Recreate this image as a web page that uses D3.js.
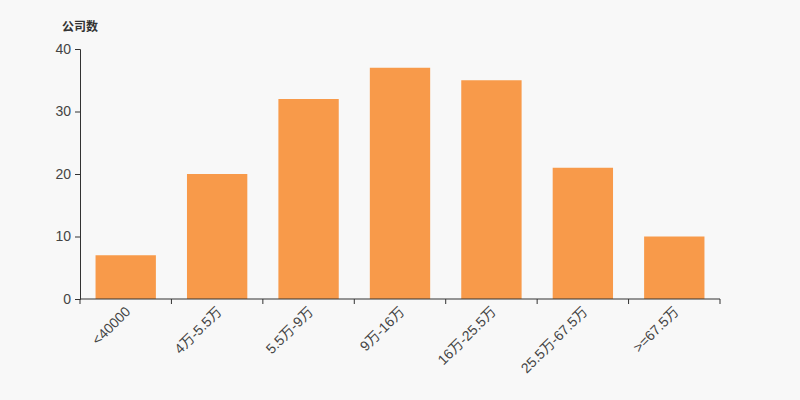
<!DOCTYPE html>
<html>
<head>
<meta charset="utf-8">
<script src="https://cdn.jsdelivr.net/npm/d3@7"></script>
<style>
  body { margin: 0; background: #f8f8f8; }
  svg { display: block; font-family: "Liberation Sans", "Noto Sans CJK SC", sans-serif; }
</style>
</head>
<body>
<div id="chart"></div>
<script>
// data
var categories = ["<40000", "4万-5.5万", "5.5万-9万", "9万-16万", "16万-25.5万", "25.5万-67.5万", ">=67.5万"];
var counts = [7, 20, 32, 37, 35, 21, 10];
var yTicks = [0, 10, 20, 30, 40];

var width = 800, height = 400;
var margin = {top: 49, right: 80, bottom: 101, left: 80};
var w = width - margin.left - margin.right,
    h = height - margin.top - margin.bottom;

var svg = d3.select("#chart").append("svg")
  .attr("width", width)
  .attr("height", height);

svg.append("rect").attr("width", width).attr("height", height).attr("fill", "#f8f8f8");

var g = svg.append("g").attr("transform", "translate(" + margin.left + "," + margin.top + ")");

var x = d3.scaleBand().domain(categories).range([0, w]).paddingInner(0.34).paddingOuter(0.17);
var band = d3.scaleBand().domain(categories).range([0, w]);
var y = d3.scaleLinear().domain([0, 40]).range([h, 0]);

// bars
g.selectAll("rect.bar")
  .data(categories)
  .enter()
  .append("rect")
    .attr("class", "bar")
    .attr("x", function(d) { return x(d); })
    .attr("width", x.bandwidth())
    .attr("y", function(d, i) { return y(counts[i]); })
    .attr("height", function(d, i) { return h - y(counts[i]); })
    .attr("fill", "#f89a4a");

// y axis
var yAxis = g.append("g")
  .call(d3.axisLeft(y).tickValues(yTicks).tickSize(5).tickPadding(4));
yAxis.select(".domain").attr("stroke", "#333");
yAxis.selectAll(".tick line").attr("stroke", "#333");
yAxis.selectAll("text").attr("fill", "#444").style("font-size", "14px").style("font-family", "Liberation Sans, sans-serif");

// x axis: ticks on band boundaries
var xg = g.append("g").attr("transform", "translate(0," + h + ")");
xg.append("line").attr("x1", 0).attr("x2", w).attr("stroke", "#333");
var bounds = categories.map(function(d) { return band(d); }).concat([w]);
xg.selectAll("line.tk").data(bounds).enter().append("line")
  .attr("class", "tk")
  .attr("x1", function(d) { return d; }).attr("x2", function(d) { return d; })
  .attr("y1", 0).attr("y2", 5).attr("stroke", "#333");
xg.selectAll("text").data(categories).enter().append("text")
  .attr("transform", function(d) {
    return "translate(" + (band(d) + band.bandwidth() / 2 + 2) + ",10) rotate(-45)";
  })
  .attr("text-anchor", "end")
  .attr("dy", "0.35em")
  .attr("fill", "#444")
  .style("font-size", "14px")
  .text(function(d) { return d; });

// y axis title
svg.append("text")
  .attr("x", 62).attr("y", 31)
  .attr("fill", "#333")
  .style("font-size", "12px")
  .style("font-weight", "bold")
  .text("公司数");
</script>
</body>
</html>
